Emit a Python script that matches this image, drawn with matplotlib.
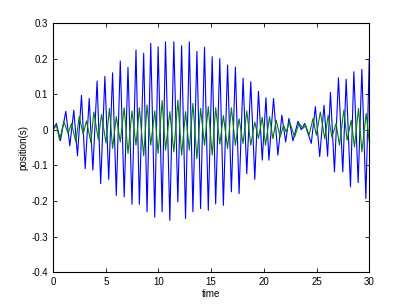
import numpy as np
import matplotlib
matplotlib.use("Agg")
import matplotlib.pyplot as plt

plt.rcParams['font.family'] = ['Liberation Sans', 'DejaVu Sans']

# extremos (tiempo, posicion)
t_azul = [0.0, 0.32, 0.70, 1.21, 1.59, 1.97, 2.32, 2.70, 3.05, 3.43,
          3.78, 4.18, 4.52, 4.92, 5.28, 5.65, 6.00, 6.38, 6.75, 7.11,
          7.49, 7.87, 8.19, 8.60, 8.92, 9.27, 9.65, 9.97, 10.35, 10.67,
          11.08, 11.46, 11.84, 12.20, 12.57, 12.93, 13.27, 13.65, 14.00, 14.37,
          14.73, 15.10, 15.43, 15.82, 16.16, 16.56, 16.92, 17.30, 17.65, 18.03,
          18.38, 18.76, 19.14, 19.49, 19.85, 20.20, 20.48, 20.92, 21.33, 21.71,
          22.07, 22.38, 22.76, 23.24, 23.55, 23.87, 24.50, 24.89, 25.30, 25.71,
          26.05, 26.32, 26.70, 27.08, 27.49, 27.81, 28.22, 28.54, 28.95, 29.30,
          29.68, 30.00]
x_azul = [0.0, 0.018, -0.030, 0.052, -0.045, 0.055, -0.073, 0.097, -0.109, 0.088,
          -0.113, 0.137, -0.151, 0.150, -0.139, 0.160, -0.184, 0.193, -0.188, 0.175,
          -0.209, 0.224, -0.209, 0.215, -0.230, 0.243, -0.245, 0.233, -0.230, 0.247,
          -0.254, 0.247, -0.202, 0.236, -0.249, 0.247, -0.230, 0.220, -0.221, 0.232,
          -0.226, 0.205, -0.208, 0.200, -0.212, 0.182, -0.174, 0.176, -0.179, 0.145,
          -0.123, 0.135, -0.139, 0.108, -0.085, 0.090, -0.085, 0.088, -0.071, 0.041,
          -0.034, 0.032, -0.031, 0.024, 0.000, 0.018, -0.038, 0.065, -0.075, 0.069,
          -0.074, 0.105, -0.118, 0.146, -0.118, 0.142, -0.160, 0.163, -0.148, 0.170,
          -0.193, 0.198]

t_verde = [0.0, 0.32, 0.63, 1.02, 1.43, 1.75, 2.16, 2.48, 2.86, 3.17,
           3.59, 3.87, 4.29, 4.60, 5.02, 5.35, 5.65, 6.00, 6.38, 6.75,
           7.11, 7.49, 7.87, 8.19, 8.60, 8.92, 9.27, 9.65, 9.97, 10.35,
           10.67, 11.08, 11.46, 11.84, 12.20, 12.57, 12.93, 13.27, 13.65, 14.00,
           14.37, 14.73, 15.10, 15.43, 15.82, 16.16, 16.56, 16.92, 17.30, 17.65,
           18.03, 18.38, 18.76, 19.14, 19.49, 19.85, 20.16, 20.54, 20.86, 21.17,
           21.55, 21.87, 22.12, 22.44, 22.92, 23.33, 23.71, 23.97, 24.29, 24.67,
           24.98, 25.36, 25.78, 26.10, 26.45, 26.86, 27.17, 27.59, 27.90, 28.29,
           28.60, 28.98, 29.30, 29.71, 30.00]
x_verde = [0.0, 0.013, -0.029, 0.023, -0.010, 0.018, -0.034, 0.037, -0.012, 0.025,
           -0.036, 0.050, -0.027, 0.043, -0.037, 0.060, -0.052, 0.037, -0.034, 0.062,
           -0.066, 0.053, -0.043, 0.062, -0.073, 0.070, -0.043, 0.053, -0.066, 0.082,
           -0.057, 0.051, -0.062, 0.083, -0.071, 0.051, -0.057, 0.074, -0.081, 0.060,
           -0.043, 0.065, -0.071, 0.062, -0.040, 0.040, -0.052, 0.062, -0.043, 0.031,
           -0.038, 0.053, -0.043, 0.022, -0.024, 0.035, -0.043, 0.037, -0.025, 0.027,
           -0.020, 0.013, -0.006, 0.023, -0.020, 0.018, 0.004, 0.013, -0.015, 0.032,
           -0.015, 0.050, -0.025, 0.041, -0.020, 0.018, -0.043, 0.055, -0.029, 0.027,
           -0.048, 0.060, -0.062, 0.046, -0.034]

fig = plt.figure(figsize=(4.08, 3.06), dpi=100)
ax = fig.add_axes([0.13, 0.11, 0.775, 0.815])
ax.plot(t_azul, x_azul, color='#0000ff', lw=0.8)
ax.plot(t_verde, x_verde, color='#008000', lw=0.8)

ax.set_xlim(0, 30)
ax.set_ylim(-0.4, 0.3)
ax.set_xticks(np.arange(0, 31, 5))
ax.set_yticks(np.arange(-0.4, 0.31, 0.1))
ax.set_yticklabels(['-0.4', '-0.3', '-0.2', '-0.1', '0', '0.1', '0.2', '0.3'])
ax.tick_params(direction='in', top=True, right=True, labelsize=7, length=3, width=0.6)
for s in ax.spines.values():
    s.set_linewidth(0.8)
ax.set_xlabel('time', fontsize=7, labelpad=1)
ax.set_ylabel('position(s)', fontsize=7, labelpad=2)

fig.savefig('out.png', dpi=100, facecolor='white')
